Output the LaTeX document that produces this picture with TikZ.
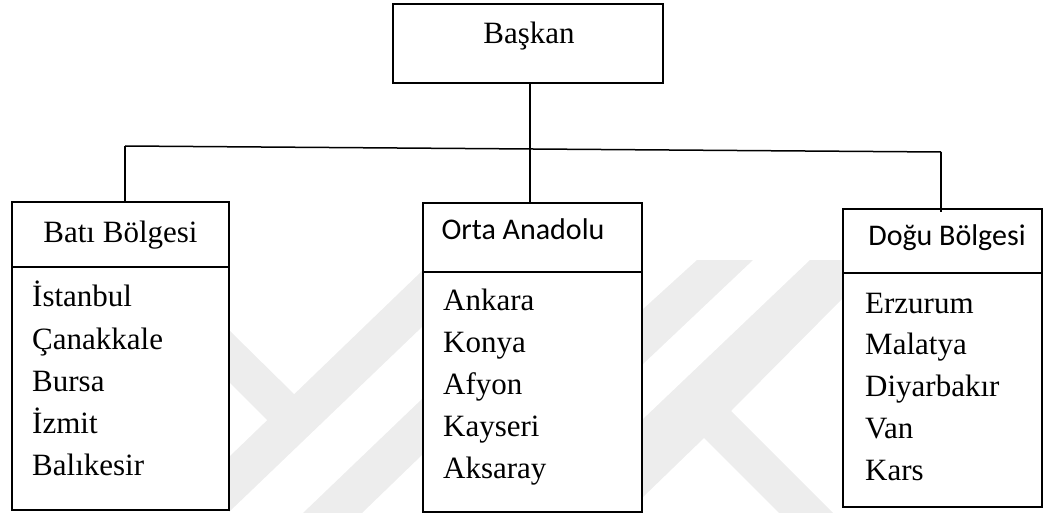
\documentclass[tikz,border=0pt]{standalone}
\usepackage{fontspec}
\setmainfont{Liberation Serif}
\newfontfamily\calfont{Carlito}
\begin{document}
\begin{tikzpicture}[x=1pt,y=-1pt,
  box/.style={draw=black,line width=1.8pt,fill=white,inner sep=0pt,outer sep=0pt,anchor=north west},
  conn/.style={draw=black,line width=1.5pt},
  divider/.style={draw=black,line width=1.8pt},
  wmark/.style={fill=black!7,draw=none},
  title/.style={anchor=base,font=\fontsize{31}{36}\selectfont},
  stitle/.style={anchor=base,font=\calfont\fontsize{30}{36}\selectfont},
  item/.style={anchor=base west,inner sep=0pt,font=\fontsize{31}{36}\selectfont}]
\useasboundingbox (0,0) rectangle (1044,513);
\clip (0,0) rectangle (1044,513);
% watermark
\fill[wmark] (229,330) -- (296,396) -- (269,422) -- (229,382) -- cycle;
\fill[wmark] (229,457) -- (423,270) -- (423,326) -- (229,512) -- cycle;
\fill[wmark] (303,513) -- (423,398) -- (423,454) -- (362,513) -- cycle;
\fill[wmark] (697,260) -- (753,260) -- (642,365) -- (642,310) -- cycle;
\fill[wmark] (810,260) -- (845,260) -- (845,296) -- (731,411) -- (833,513) -- (779,513) -- (704,438) -- (642,498) -- (642,420) -- cycle;
% boxes
\node[box,minimum width=270pt,minimum height=79pt] (baskan) at (393,4) {};
\node[box,minimum width=217pt,minimum height=308pt] (bati) at (12,202) {};
\node[box,minimum width=219pt,minimum height=309pt] (orta) at (423,203) {};
\node[box,minimum width=199pt,minimum height=298pt] (dogu) at (843,209) {};
% dividers
\draw[divider] (bati.west |- 0,267) -- (bati.east |- 0,267);
\draw[divider] (orta.west |- 0,272) -- (orta.east |- 0,272);
\draw[divider] (dogu.west |- 0,273) -- (dogu.east |- 0,273);
% titles
\node[title] (tbaskan) at (529,44) {Başkan};
\node[title] (tbati) at (120.5,242) {Batı Bölgesi};
\node[stitle] (torta) at (523,240) {Orta Anadolu};
\node[stitle] (tdogu) at (947,245) {Doğu Bölgesi};
% items
\foreach \t [count=\i from 0] in {İstanbul,Çanakkale,Bursa,İzmit,Balıkesir}
  \node[item] (b\i) at (32,306.7+42.3*\i) {\t};
\foreach \t [count=\i from 0] in {Ankara,Konya,Afyon,Kayseri,Aksaray}
  \node[item] (o\i) at (443,310.7+41.9*\i) {\t};
\foreach \t [count=\i from 0] in {Erzurum,Malatya,Diyarbakır,Van,Kars}
  \node[item] (d\i) at (865,313+41.8*\i) {\t};
% connectors
\coordinate (jl) at (125,146);
\coordinate (jr) at (941,152);
\coordinate (cv) at (530,149);
\draw[conn] (jl) -- (jr);
\draw[conn] (cv |- baskan.south) -- (cv |- orta.north);
\draw[conn] (jl) -- (jl |- bati.north);
\draw[conn] (jr) -- ([yshift=-3pt]jr |- dogu.north);
\end{tikzpicture}
\end{document}
